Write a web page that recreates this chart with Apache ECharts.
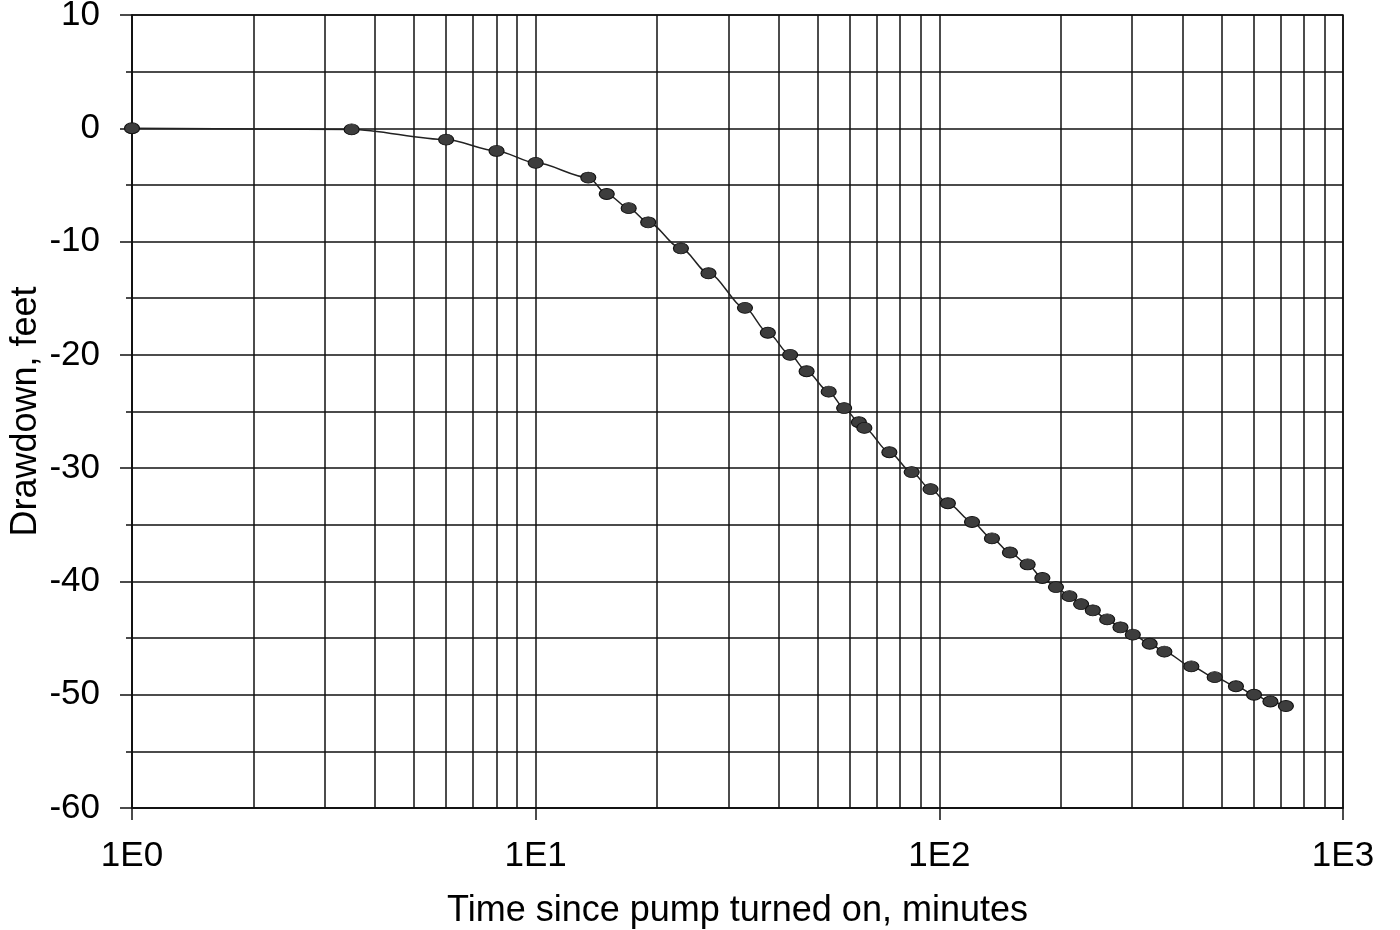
<!DOCTYPE html>
<html>
<head>
<meta charset="utf-8">
<script src="https://cdn.jsdelivr.net/npm/echarts@6/dist/echarts.min.js"></script>
<style>
  html, body { margin: 0; padding: 0; background: #ffffff; }
  #chart { width: 1400px; height: 930px; }
</style>
</head>
<body>
<div id="chart"></div>
<script>
// ---- data ----
const timeMinutes = [1, 3.5, 6, 8, 10, 13.5, 15, 17, 19, 22.9, 26.8, 33, 37.6, 42.7, 46.9,
  53.2, 58.1, 63.2, 65.2, 75.2, 85.4, 95.1, 105, 120.5, 135, 149.6, 165.5, 180, 194.5,
  210, 224.5, 240, 260.5, 281, 301.5, 332, 361, 421, 481, 543, 602, 661, 722];
const drawdownFeet = [0, -0.1, -1.0, -2.0, -3.05, -4.35, -5.8, -7.05, -8.3, -10.6, -12.8,
  -15.85, -18.05, -20.0, -21.45, -23.25, -24.7, -25.95, -26.45, -28.6, -30.35, -31.85,
  -33.1, -34.75, -36.2, -37.45, -38.5, -39.7, -40.5, -41.3, -42.0, -42.55, -43.35,
  -44.05, -44.7, -45.5, -46.2, -47.5, -48.45, -49.25, -50.0, -50.6, -51.0];

const xTickLabels = ['1E0', '1E1', '1E2', '1E3'];
const yTickLabels = ['10', '0', '-10', '-20', '-30', '-40', '-50', '-60'];
const xTitle = 'Time since pump turned on, minutes';
const yTitle = 'Drawdown, feet';

// log-cycle minor grid positions (2..9 in each decade)
const minorGridX = [];
[1, 10, 100].forEach(function (d) { for (let k = 2; k <= 9; k++) minorGridX.push(k * d); });

// ---- chart ----
const FONT = '"Liberation Sans", Arial, Helvetica, sans-serif';
const INK = '#111111';
const chart = echarts.init(document.getElementById('chart'), null, { renderer: 'canvas' });

const option = {
  animation: false,
  backgroundColor: '#ffffff',
  grid: {
    left: 132, right: 57, top: 15, bottom: 122,
    outerBoundsMode: 'none',
    containLabel: false,
    show: true, borderColor: INK, borderWidth: 1.5, backgroundColor: 'transparent'
  },
  xAxis: {
    type: 'log', logBase: 10, min: 1, max: 1000,
    name: xTitle, nameLocation: 'middle', nameGap: 85, nameMoveOverlap: false,
    nameTextStyle: { fontFamily: FONT, fontSize: 36, color: '#000' },
    axisLine: { show: true, onZero: false, lineStyle: { color: INK, width: 1.5 } },
    axisTick: { show: true, inside: false, length: 12, lineStyle: { color: INK, width: 1.5 } },
    axisLabel: {
      margin: 31, fontFamily: FONT, fontSize: 35, color: '#000',
      formatter: function (v) {
        const i = Math.round(Math.log10(v));
        return xTickLabels[i] !== undefined ? xTickLabels[i] : '';
      }
    },
    splitLine: { show: true, lineStyle: { color: INK, width: 1.5 } }
  },
  yAxis: {
    type: 'value', min: -60, max: 10, interval: 10,
    name: yTitle, nameLocation: 'middle', nameGap: 88, nameRotate: 90, nameMoveOverlap: false,
    nameTextStyle: { fontFamily: FONT, fontSize: 36, color: '#000' },
    axisLine: { show: true, onZero: false, lineStyle: { color: INK, width: 1.5 } },
    axisTick: { show: true, inside: false, length: 12, lineStyle: { color: INK, width: 1.5 } },
    minorTick: { show: true, splitNumber: 2, length: 6, lineStyle: { color: INK, width: 1.5 } },
    axisLabel: {
      margin: 32, fontFamily: FONT, fontSize: 35, color: '#000',
      formatter: function (v) {
        const i = Math.round((10 - v) / 10);
        return yTickLabels[i] !== undefined ? yTickLabels[i] : '';
      }
    },
    splitLine: { show: true, lineStyle: { color: INK, width: 1.5 } },
    minorSplitLine: { show: true, lineStyle: { color: INK, width: 1.5 } }
  },
  series: [
    {
      name: 'minor grid',
      type: 'line',
      data: [],
      z: 1,
      silent: true,
      markLine: {
        silent: true,
        symbol: ['none', 'none'],
        label: { show: false },
        lineStyle: { color: INK, width: 1.5, type: 'solid' },
        emphasis: { disabled: true },
        data: minorGridX.map(function (v) { return { xAxis: v }; })
      }
    },
    {
      name: 'Drawdown',
      type: 'line',
      z: 5,
      data: timeMinutes.map(function (t, i) { return [t, drawdownFeet[i]]; }),
      smooth: 0.3,
      smoothMonotone: 'x',
      symbol: 'circle',
      symbolSize: [15, 11],
      itemStyle: { color: '#3d3d3d', borderColor: '#111', borderWidth: 1 },
      lineStyle: { color: '#222', width: 1.5 }
    }
  ]
};
chart.setOption(option);
</script>
</body>
</html>
